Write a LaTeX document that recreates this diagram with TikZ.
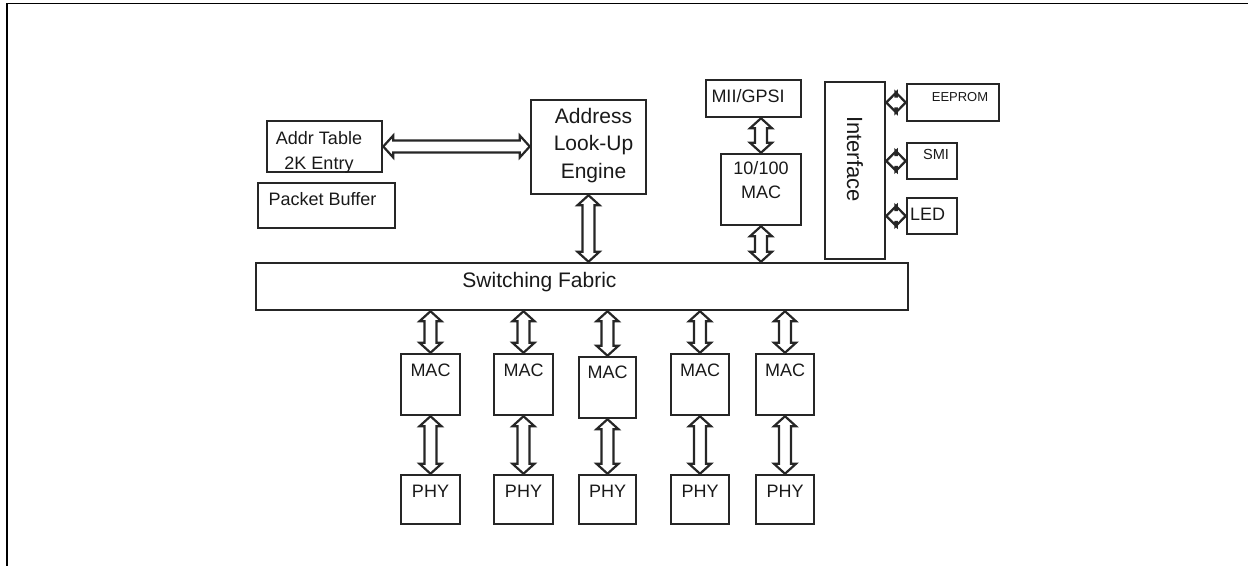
\documentclass[tikz,border=0pt]{standalone}
\usepackage{graphicx}
\usepackage{fontspec}
\setmainfont{Liberation Sans}
\usetikzlibrary{calc}
\newcommand\buslen{5pt}
\newcommand\buswide{5.5pt}
\newcommand\busshaft{3pt}
\tikzstyle{block} = [rectangle, draw=black!85, line width=1.25pt, inner sep=0pt]
\tikzstyle{txt} = [anchor=north, inner sep=0pt, align=center, text=black!90, font=\fontsize{9}{12.5}\selectfont]
\tikzstyle{big} = [font=\fontsize{10.5}{13.75}\selectfont]
\tikzstyle{bus} = [draw=black!85, line width=1.1pt, fill=white, to path={
  -- ($(\tikztostart)!\buslen!(\tikztotarget)!\buswide!90:(\tikztotarget)$)
  -- ($(\tikztostart)!\buslen!(\tikztotarget)!\busshaft!90:(\tikztotarget)$)
  -- ($(\tikztotarget)!\buslen!(\tikztostart)!\busshaft!-90:(\tikztostart)$)
  -- ($(\tikztotarget)!\buslen!(\tikztostart)!\buswide!-90:(\tikztostart)$)
  -- (\tikztotarget)
  -- ($(\tikztotarget)!\buslen!(\tikztostart)!\buswide!90:(\tikztostart)$)
  -- ($(\tikztotarget)!\buslen!(\tikztostart)!\busshaft!90:(\tikztostart)$)
  -- ($(\tikztostart)!\buslen!(\tikztotarget)!\busshaft!-90:(\tikztotarget)$)
  -- ($(\tikztostart)!\buslen!(\tikztotarget)!\buswide!-90:(\tikztotarget)$)
  -- cycle}]
\tikzstyle{plug} = [bus, /utils/exec={\renewcommand\buslen{5.2pt}\renewcommand\buswide{5.25pt}}]

\begin{document}
\begin{tikzpicture}[x=0.5pt, y=-0.5pt]
\useasboundingbox (0,0) rectangle (1248,566);
\draw[line width=0.6pt] (7,566) -- (7,3.5) -- (1248,3.5);

% lookup side
\node(addr) [block, minimum width=57.5pt, minimum height=25.5pt, label={[txt, xshift=-2.75pt, yshift=-5.5pt]north:Addr Table\\2K Entry}] at (324.5,146.5) {};
\node(buffer) [block, minimum width=68.5pt, minimum height=22.5pt, label={[txt, xshift=-2pt, yshift=-5pt]north:Packet Buffer}] at (326.5,205.5) {};
\node(ale) [block, minimum width=57.5pt, minimum height=47pt, label={[txt, big, xshift=2.5pt, yshift=-4.5pt]north:Address\\Look-Up\\Engine}] at (588.5,147) {};

% uplink and interface
\node(mii) [block, minimum width=47.5pt, minimum height=18.5pt, label={[txt, xshift=-2.75pt, yshift=-5pt]north:MII/GPSI}] at (753.5,98.5) {};
\node(mac0) [block, minimum width=40pt, minimum height=35.5pt, label={[txt, font=\fontsize{9}{12}\selectfont, yshift=-4pt]north:10/100\\MAC}] at (761,189.5) {};
\node(iface) [block, minimum width=30pt, minimum height=88.5pt, label={[txt, font=\fontsize{11}{13}\selectfont, yshift=-17.5pt]north:\rotatebox{-90}{Interface}}] at (855,170.5) {};
\node(eeprom) [block, minimum width=46pt, minimum height=18.5pt, label={[txt, font=\fontsize{6.5}{8}\selectfont, xshift=3.5pt, yshift=-4.5pt]north:EEPROM}] at (953,102.5) {};
\node(smi) [block, minimum width=25pt, minimum height=18pt, label={[txt, font=\fontsize{7.3}{9}\selectfont, xshift=2pt, yshift=-3.5pt]north:SMI}] at (932,161) {};
\node(led) [block, minimum width=25pt, minimum height=18pt, label={[txt, xshift=-2.25pt, yshift=-5.5pt]north:LED}] at (932,216) {};

\node(fabric) [block, minimum width=326pt, minimum height=23.5pt, label={[txt, big, xshift=-21.25pt, yshift=-5pt]north:Switching Fabric}] at (582,286.5) {};

% ports
\node(mac1) [block, minimum width=29.5pt, minimum height=30.5pt, label={[txt, yshift=-5.5pt]north:MAC}] at (430.5,384.5) {};
\node(mac2) [block, minimum width=29.5pt, minimum height=30.5pt, label={[txt, yshift=-5.5pt]north:MAC}] at (523.5,384.5) {};
\node(mac3) [block, minimum width=28.5pt, minimum height=30.5pt, label={[txt, yshift=-5pt]north:MAC}] at (607.5,387.5) {};
\node(mac4) [block, minimum width=29pt, minimum height=30.5pt, label={[txt, yshift=-5.5pt]north:MAC}] at (700,384.5) {};
\node(mac5) [block, minimum width=29pt, minimum height=30.5pt, label={[txt, yshift=-5.5pt]north:MAC}] at (785,384.5) {};
\node(phy1) [block, minimum width=29.5pt, minimum height=24.5pt, label={[txt, yshift=-5.5pt]north:PHY}] at (430.5,499.5) {};
\node(phy2) [block, minimum width=29.5pt, minimum height=24.5pt, label={[txt, yshift=-5.5pt]north:PHY}] at (523.5,499.5) {};
\node(phy3) [block, minimum width=28.5pt, minimum height=24.5pt, label={[txt, yshift=-5.5pt]north:PHY}] at (607.5,499.5) {};
\node(phy4) [block, minimum width=29pt, minimum height=24.5pt, label={[txt, yshift=-5.5pt]north:PHY}] at (700,499.5) {};
\node(phy5) [block, minimum width=29pt, minimum height=24.5pt, label={[txt, yshift=-5.5pt]north:PHY}] at (785,499.5) {};

\draw[bus] (addr.east) to (addr.east -| ale.west);
\draw[bus] (ale.south) to (ale.south |- fabric.north);
\draw[bus] (mii.south -| mac0.north) to (mac0.north);
\draw[bus] (mac0.south) to (mac0.south |- fabric.north);
\draw[plug] (iface.east |- eeprom.west) to (eeprom.west);
\draw[plug] (iface.east |- smi.west) to (smi.west);
\draw[plug] (iface.east |- led.west) to (led.west);
\draw[bus] (mac1.north |- fabric.south) to (mac1.north);
\draw[bus] (mac2.north |- fabric.south) to (mac2.north);
\draw[bus] (mac3.north |- fabric.south) to (mac3.north);
\draw[bus] (mac4.north |- fabric.south) to (mac4.north);
\draw[bus] (mac5.north |- fabric.south) to (mac5.north);
\draw[bus] (mac1.south) to (phy1.north);
\draw[bus] (mac2.south) to (phy2.north);
\draw[bus] (mac3.south) to (phy3.north);
\draw[bus] (mac4.south) to (phy4.north);
\draw[bus] (mac5.south) to (phy5.north);
\end{tikzpicture}
\end{document}
